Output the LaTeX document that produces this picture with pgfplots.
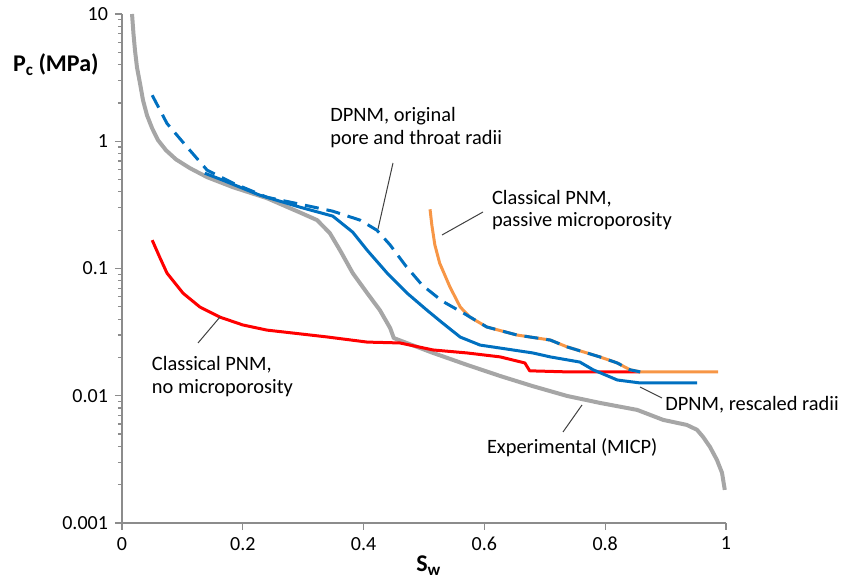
\documentclass[border=0pt]{standalone}
\usepackage{pgfplots}
\pgfplotsset{compat=1.18}
\usepackage{fontspec}
\setmainfont{Carlito}
\definecolor{cgray}{RGB}{166,166,166}
\definecolor{cblue}{RGB}{0,112,192}
\definecolor{cred}{RGB}{255,0,0}
\definecolor{corange}{RGB}{247,150,70}
\definecolor{caxis}{RGB}{140,140,140}
\definecolor{cleader}{RGB}{64,64,64}
\begin{document}
\begin{tikzpicture}
\begin{axis}[
 at={(0,0)}, anchor=south west,
 scale only axis, width=302pt, height=254.5pt,
 xmin=0, xmax=1, ymin=0.001, ymax=10, ymode=log,
 axis x line*=bottom, axis y line*=left,
 axis line style={caxis, line width=0.6pt},
 tick style={caxis, line width=0.6pt},
 tick align=outside, major tick length=3.5pt, minor tick length=2pt,
 xtick={0,0.2,0.4,0.6,0.8,1}, xticklabels={0,0.2,0.4,0.6,0.8,1},
 ytick={0.001,0.01,0.1,1,10}, yticklabels={0.001,0.01,0.1,1,10},
 minor ytick={0.002,0.003,0.004,0.005,0.006,0.007,0.008,0.009,0.02,0.03,0.04,0.05,0.06,0.07,0.08,0.09,0.2,0.3,0.4,0.5,0.6,0.7,0.8,0.9,2,3,4,5,6,7,8,9},
 ticklabel style={font=\fontsize{10}{12}\selectfont, text=black},
 clip=false,
]
% Experimental (MICP)
\addplot[cgray, line width=2pt, line join=round] coordinates {
(0.0166,10) (0.019,7.0) (0.0215,5.18) (0.0248,3.81) (0.0298,2.85) (0.0348,2.10)
(0.0414,1.60) (0.0497,1.27) (0.0596,1.02) (0.0728,0.85) (0.0894,0.72) (0.1126,0.614)
(0.141,0.522) (0.184,0.435) (0.240,0.357) (0.295,0.275) (0.323,0.240)
(0.344,0.190) (0.361,0.139) (0.382,0.092) (0.406,0.064) (0.427,0.047) (0.444,0.034)
(0.450,0.0284) (0.472,0.0259) (0.515,0.0217) (0.571,0.0175) (0.626,0.0143) (0.680,0.0119)
(0.737,0.00996) (0.791,0.00879) (0.853,0.00774) (0.896,0.00646) (0.935,0.0059)
(0.952,0.0054) (0.962,0.00475) (0.9735,0.00396) (0.985,0.00313) (0.9934,0.00248) (0.998,0.00182)
};
% Classical PNM, no microporosity
\addplot[cred, line width=1.5pt, line join=round] coordinates {
(0.050,0.167) (0.063,0.121) (0.0745,0.092) (0.101,0.064) (0.129,0.0498) (0.162,0.0415)
(0.200,0.036) (0.240,0.0328) (0.283,0.0311) (0.339,0.0290) (0.406,0.0264) (0.460,0.0260)
(0.515,0.0229) (0.571,0.0217) (0.626,0.0202) (0.667,0.0181) (0.675,0.0157) (0.737,0.0154)
(0.858,0.0154)
};
% DPNM, rescaled radii
\addplot[cblue, line width=1.5pt, line join=round] coordinates {
(0.137,0.561) (0.167,0.494) (0.228,0.377) (0.295,0.303) (0.349,0.258) (0.382,0.193)
(0.406,0.139) (0.439,0.092) (0.472,0.064) (0.505,0.047) (0.531,0.0372) (0.560,0.0289)
(0.593,0.0250) (0.626,0.0237) (0.680,0.0217) (0.709,0.0202) (0.758,0.0184) (0.780,0.0160)
(0.820,0.0133) (0.858,0.0126) (0.952,0.0126)
};
% Classical PNM, passive microporosity
\addplot[corange, line width=1.5pt, line join=round] coordinates {
(0.510,0.292) (0.513,0.219) (0.518,0.153) (0.526,0.110) (0.543,0.0715) (0.560,0.0498)
(0.576,0.0415) (0.604,0.0347) (0.654,0.030) (0.709,0.0274) (0.737,0.0242) (0.791,0.0202)
(0.820,0.0181) (0.841,0.0160) (0.858,0.0154) (0.987,0.0154)
};
% DPNM, original pore and throat radii
\addplot[cblue, line width=1.5pt, line join=round, dash pattern=on 7pt off 4pt] coordinates {
(0.050,2.30) (0.0745,1.38) (0.108,0.897) (0.141,0.592) (0.184,0.468) (0.240,0.363)
(0.295,0.320) (0.349,0.282) (0.394,0.240) (0.422,0.200) (0.444,0.153) (0.469,0.106)
(0.497,0.074) (0.530,0.0555) (0.565,0.0447) (0.604,0.0347) (0.654,0.030) (0.709,0.0274)
(0.737,0.0242) (0.791,0.0202) (0.820,0.0181) (0.841,0.0160) (0.858,0.0154)
};
\end{axis}
% leader lines
\draw[cleader, line width=0.5pt] (135.5pt,180pt) -- (128pt,147pt);
\draw[cleader, line width=0.5pt] (180.5pt,155.5pt) -- (160pt,144pt);
\draw[cleader, line width=0.5pt] (38pt,90pt) -- (49pt,103pt);
\draw[cleader, line width=0.5pt] (259pt,68pt) -- (270pt,62.5pt);
\draw[cleader, line width=0.5pt] (220.5pt,45.5pt) -- (230pt,59pt);
% annotations
\begin{scope}[every node/.style={inner sep=0pt, anchor=base west, font=\fontsize{10.2}{12}\selectfont}]
\node at (104pt,200.6pt) {DPNM, original};
\node at (104pt,189pt) {pore and throat radii};
\node at (184.8pt,159pt) {Classical PNM,};
\node at (184.8pt,148pt) {passive microporosity};
\node at (14.8pt,76pt) {Classical PNM,};
\node at (14.8pt,64.8pt) {no microporosity};
\node at (271.5pt,56pt) {DPNM, rescaled radii};
\node at (182.3pt,34.5pt) {Experimental (MICP)};
\end{scope}
% axis titles
\node[inner sep=0pt, anchor=base west, font=\fontsize{12}{14}\selectfont\bfseries] at (-54.6pt,225.6pt) {P\raisebox{-0.35ex}{\fontsize{8.5}{10}\selectfont c} (MPa)};
\node[inner sep=0pt, anchor=base west, font=\fontsize{12}{14}\selectfont\bfseries] at (147pt,-24.3pt) {S\raisebox{-0.35ex}{\fontsize{8.5}{10}\selectfont w}};
\pgfresetboundingbox
\path[use as bounding box] (-61pt,-29.5pt) rectangle (359.5pt,261.5pt);
\end{tikzpicture}
\end{document}
